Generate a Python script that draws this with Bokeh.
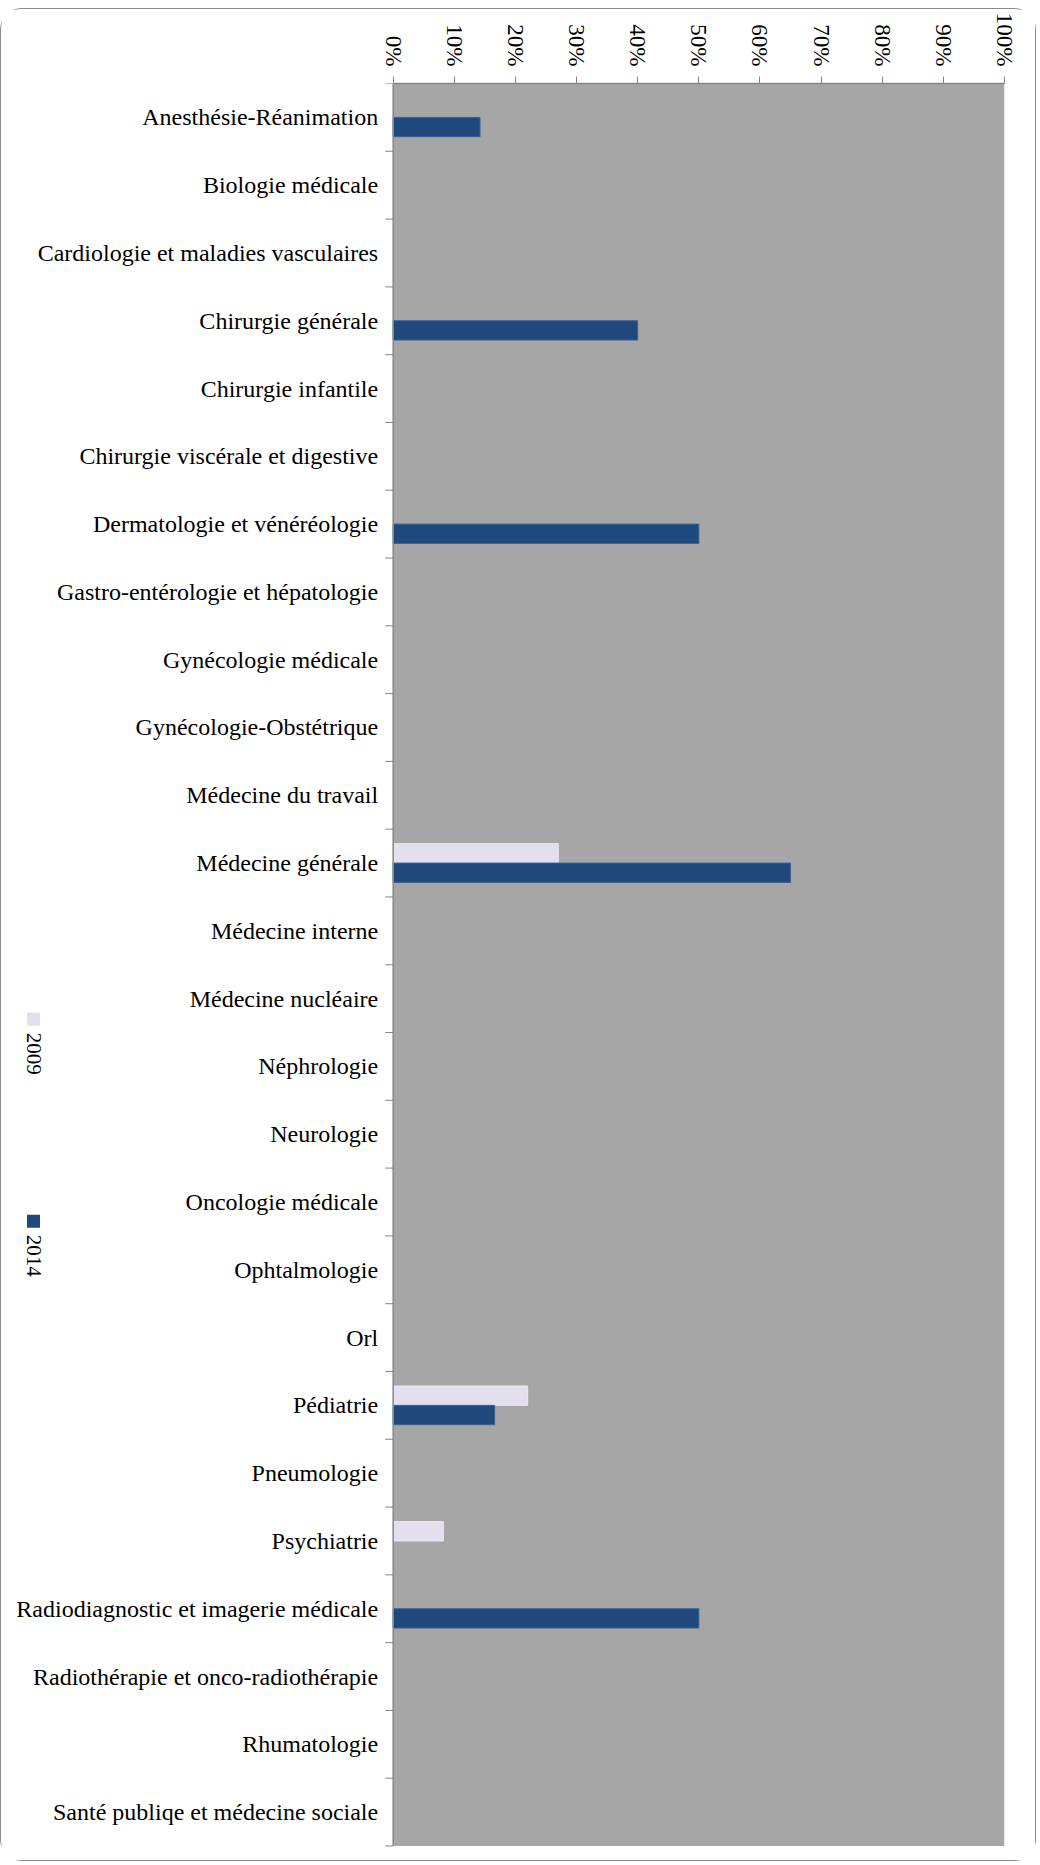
import math
from bokeh.plotting import figure
from bokeh.models import FixedTicker, NumeralTickFormatter, Range1d
from bokeh.core.properties import value
from bokeh.embed import file_html
from bokeh.resources import INLINE

categories = [
    "Anesthésie-Réanimation",
    "Biologie médicale",
    "Cardiologie et maladies vasculaires",
    "Chirurgie générale",
    "Chirurgie infantile",
    "Chirurgie viscérale et digestive",
    "Dermatologie et vénéréologie",
    "Gastro-entérologie et hépatologie",
    "Gynécologie médicale",
    "Gynécologie-Obstétrique",
    "Médecine du travail",
    "Médecine générale",
    "Médecine interne",
    "Médecine nucléaire",
    "Néphrologie",
    "Neurologie",
    "Oncologie médicale",
    "Ophtalmologie",
    "Orl",
    "Pédiatrie",
    "Pneumologie",
    "Psychiatrie",
    "Radiodiagnostic et imagerie médicale",
    "Radiothérapie et onco-radiothérapie",
    "Rhumatologie",
    "Santé publiqe et médecine sociale",
]
v2009 = [0, 0, 0, 0, 0, 0, 0, 0, 0, 0, 0, 0.27, 0, 0, 0, 0, 0, 0, 0, 0.22, 0, 0.082, 0, 0, 0, 0]
v2014 = [0.142, 0, 0, 0.40, 0, 0, 0.50, 0, 0, 0, 0, 0.65, 0, 0, 0, 0, 0, 0, 0, 0.166, 0, 0, 0.50, 0, 0, 0]
x_ticks = [0, 0.1, 0.2, 0.3, 0.4, 0.5, 0.6, 0.7, 0.8, 0.9, 1.0]
series_names = ["2009", "2014"]
series_colors = ["#e4dfec", "#1f497d"]

n = len(categories)
centers = [n - i - 0.5 for i in range(n)]
boundaries = list(range(0, n + 1))
bar_h = 0.285

FONT = "Liberation Serif"
AXIS_COL = "#868686"

# placement on the page (pixels)
W, H = 1036, 1853
CANVAS_L, CANVAS_T = 1.5, 9.5
FL, FR, FT, FB = 393.0, 1004.0, 84.0, 1846.0
px_x = (FR - FL) / 1.0
px_y = (FB - FT) / n


def dx(page_x):
    return (page_x - FL) / px_x


def dy(page_y):
    return (FB - page_y) / px_y


canvas_bottom = CANVAS_T + H
p = figure(width=W, height=H, output_backend="svg", toolbar_location=None,
           x_range=Range1d(dx(CANVAS_L), 1), y_range=Range1d(dy(canvas_bottom), n),
           x_axis_location="above", y_axis_location=None,
           min_border_left=0, min_border_right=int(CANVAS_L + W - FR),
           min_border_top=int(FT - CANVAS_T), min_border_bottom=0)
p.background_fill_color = "white"
p.border_fill_color = "white"
p.outline_line_color = None
p.xgrid.visible = False
p.ygrid.visible = False

# plot area
p.quad(left=0, right=1, bottom=0, top=n, fill_color="#a6a6a6", line_color=None)

# bars
idx09 = [i for i, v in enumerate(v2009) if v > 0]
idx14 = [i for i, v in enumerate(v2014) if v > 0]
p.hbar(y=[centers[i] + bar_h / 2 for i in idx09], right=[v2009[i] for i in idx09], left=0,
       height=bar_h, fill_color=series_colors[0], line_color="#eeeaf3", line_width=1)
p.hbar(y=[centers[i] - bar_h / 2 for i in idx14], right=[v2014[i] for i in idx14], left=0,
       height=bar_h, fill_color=series_colors[1], line_color="#3d6191", line_width=1)

# category axis (drawn): line, boundary ticks, labels
p.segment(x0=[0], y0=[0], x1=[0], y1=[n], line_color=AXIS_COL, line_width=1.5)
p.segment(x0=[dx(FL - 8)] * len(boundaries), x1=[0] * len(boundaries),
          y0=boundaries, y1=boundaries, line_color=AXIS_COL, line_width=1)
p.text(x=[dx(FL - 15)] * n, y=centers, text=categories,
       text_align="right", text_baseline="middle",
       text_font=value(FONT), text_font_size="24px", text_color="#000000")

# x axis (top)
xa = p.xaxis[0]
xa.bounds = (0, 1)
xa.ticker = FixedTicker(ticks=x_ticks)
xa.formatter = NumeralTickFormatter(format="0%")
xa.major_label_orientation = -math.pi / 2
xa.major_label_text_font = FONT
xa.major_label_text_font_size = "23px"
xa.major_label_text_color = "#000000"
xa.major_tick_out = 7
xa.major_tick_in = 0
xa.minor_tick_out = 0
xa.minor_tick_in = 0
xa.axis_line_color = AXIS_COL
xa.axis_line_width = 1.5
xa.major_tick_line_color = AXIS_COL
xa.major_label_standoff = 10

# legend (rotated, at far left)
leg_square_top = [1013, 1215]
p.quad(left=[dx(27)] * 2, right=[dx(40)] * 2,
       top=[dy(t) for t in leg_square_top], bottom=[dy(t + 13) for t in leg_square_top],
       fill_color=series_colors, line_color=None)
p.text(x=[dx(34)] * 2, y=[dy(t + 20) for t in leg_square_top], text=series_names,
       angle=-math.pi / 2, text_align="left", text_baseline="middle",
       text_font=value(FONT), text_font_size="21px", text_color="#000000")

p.styles = {"border": "1.5px solid #8a8a8a", "border-radius": "22px", "margin-top": "8px"}

open("out.html", "w").write(file_html(p, INLINE))
